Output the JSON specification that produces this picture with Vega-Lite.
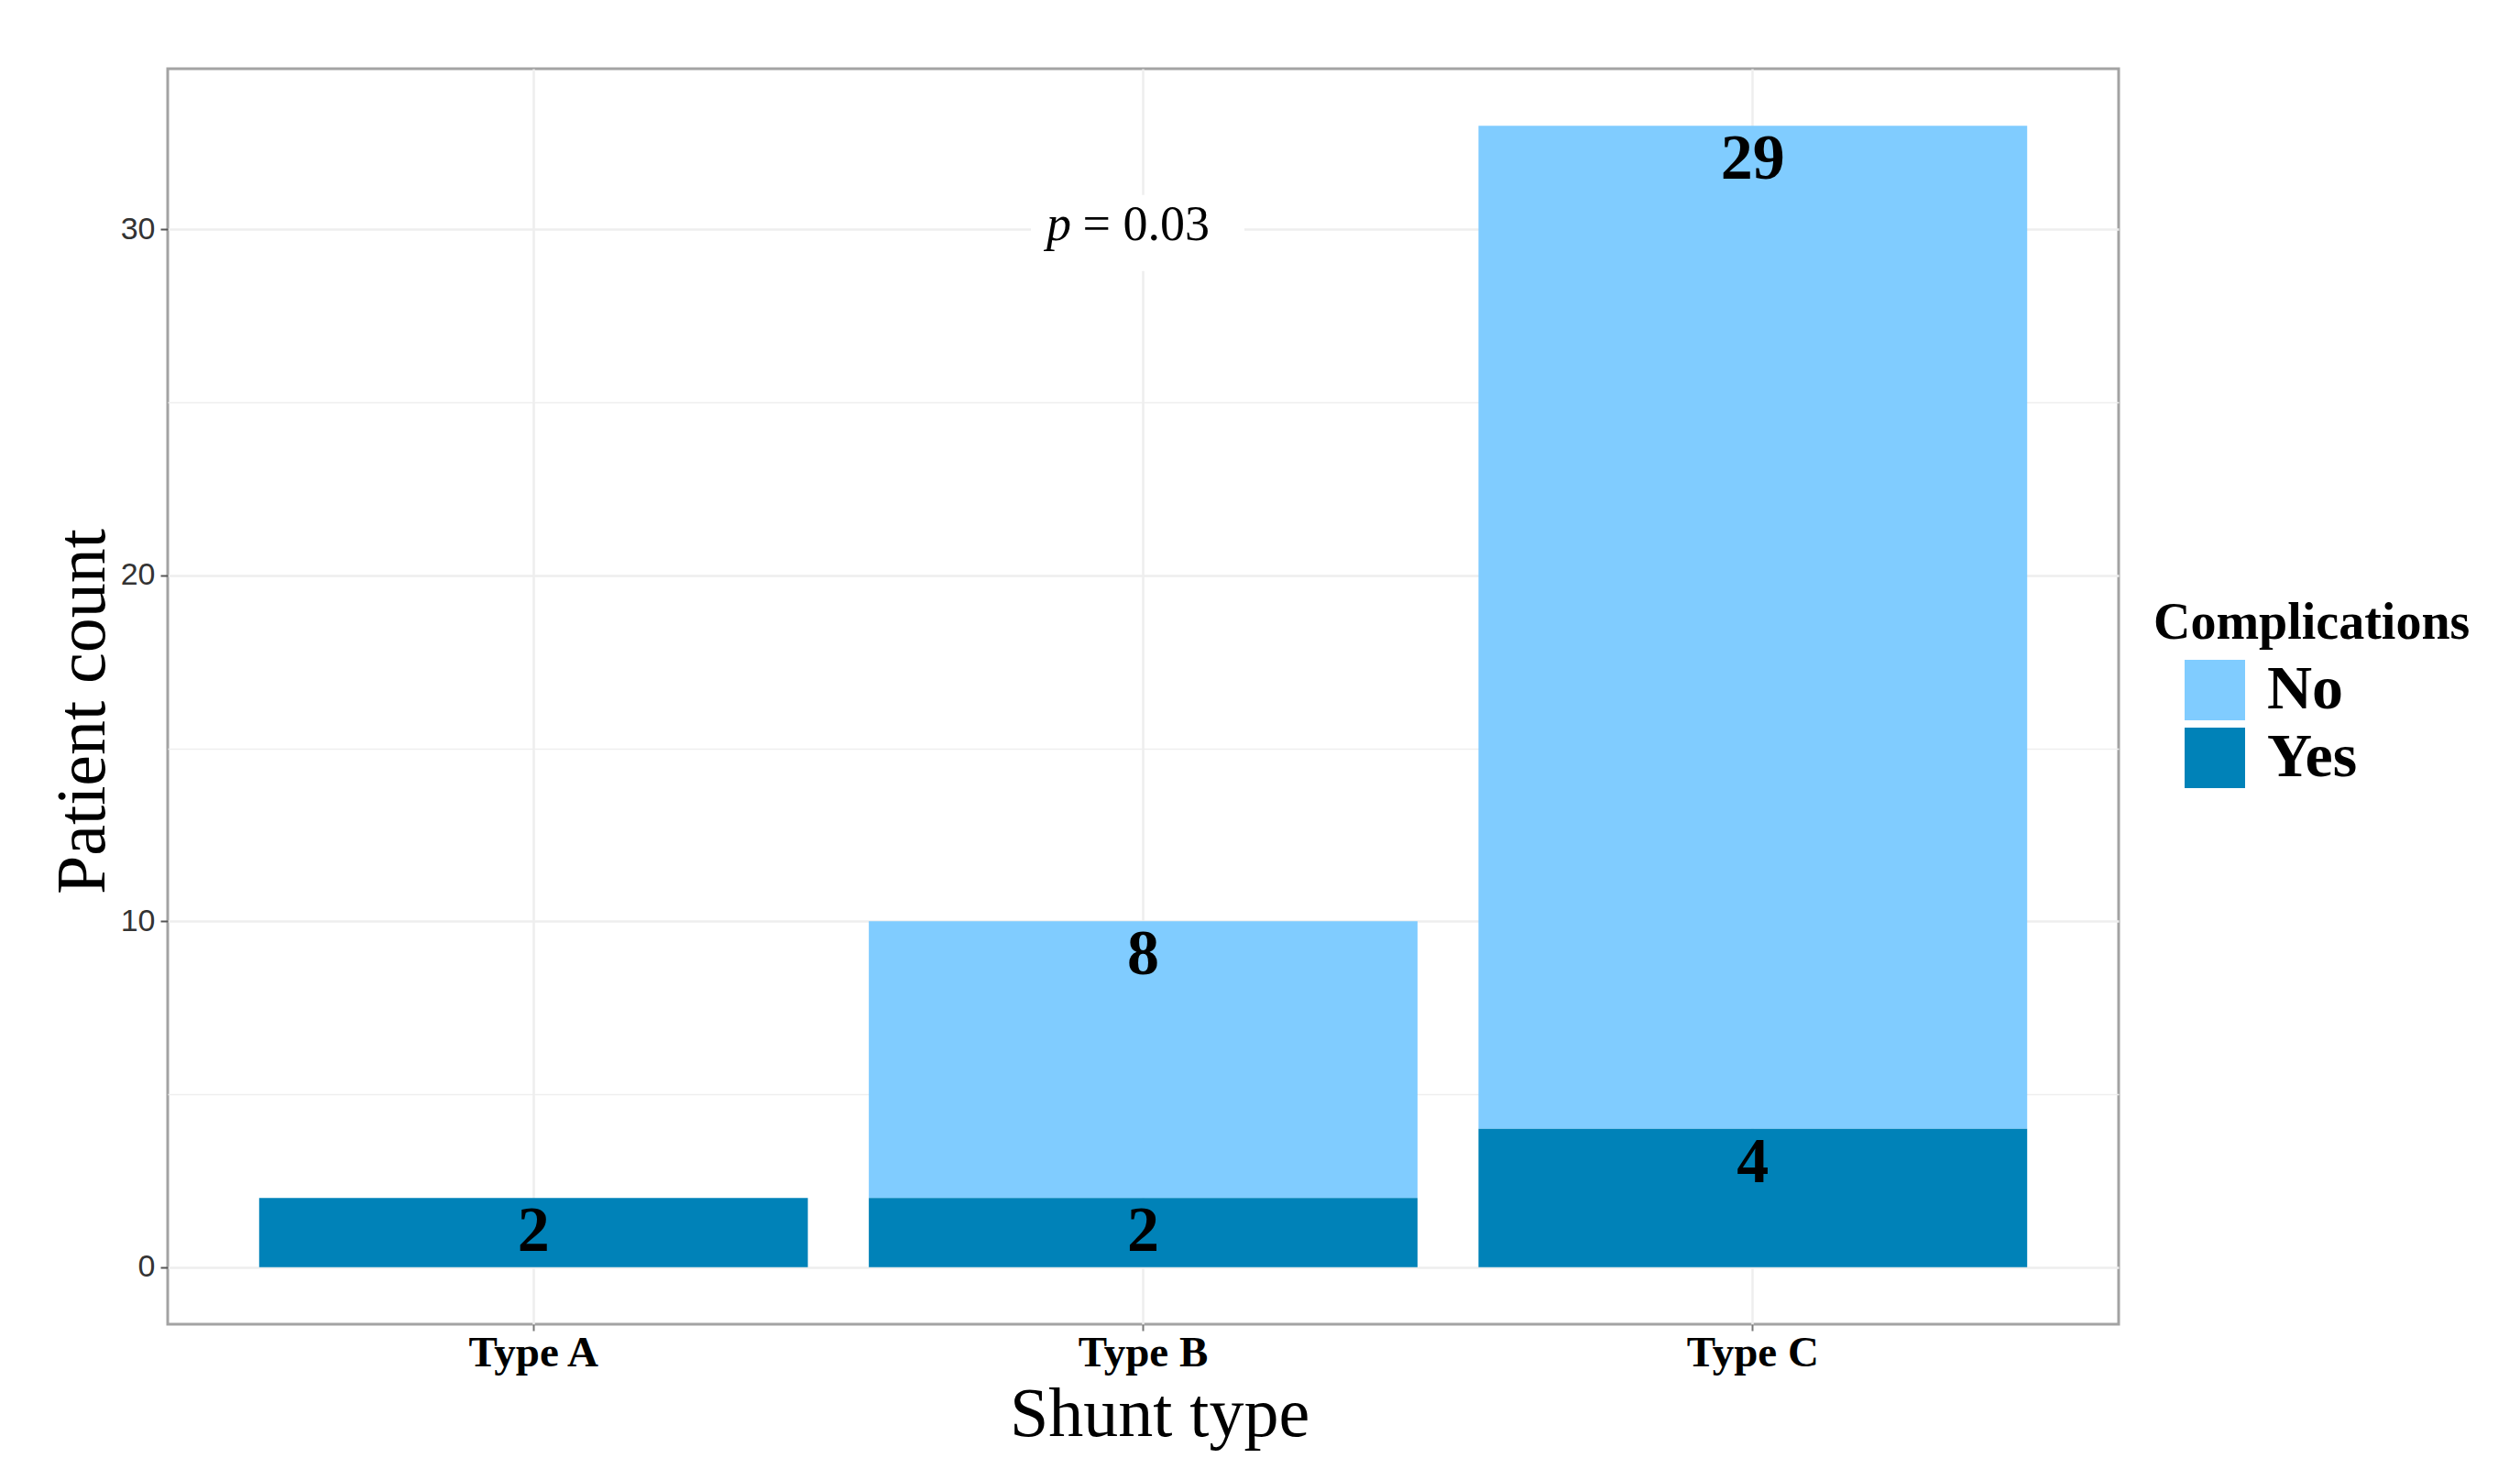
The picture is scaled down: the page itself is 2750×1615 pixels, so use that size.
{
  "$schema": "https://vega.github.io/schema/vega-lite/v6.json",
  "autosize": {"type": "none"},
  "padding": {"left": 183, "top": 75, "right": 438, "bottom": 170},
  "width": 2129,
  "height": 1370,
  "background": "white",
  "config": {
    "view": {"stroke": "#a3a3a3", "strokeWidth": 3},
    "axis": {"domain": false}
  },
  "data": {
    "values": [
      {"Shunt": "Type A", "Complications": "Yes", "count": 2},
      {"Shunt": "Type B", "Complications": "No", "count": 8},
      {"Shunt": "Type B", "Complications": "Yes", "count": 2},
      {"Shunt": "Type C", "Complications": "No", "count": 29},
      {"Shunt": "Type C", "Complications": "Yes", "count": 4}
    ]
  },
  "encoding": {
    "x": {
      "field": "Shunt",
      "type": "nominal",
      "sort": ["Type A", "Type B", "Type C"],
      "scale": {"paddingInner": 0.1, "paddingOuter": 0.15},
      "axis": {
        "title": "Shunt type",
        "labelAngle": 0,
        "bandPosition": 0.5,
        "grid": true,
        "gridColor": "#eeeeee",
        "gridWidth": 2.5,
        "ticks": true,
        "tickColor": "#777777",
        "tickWidth": 2,
        "tickSize": 7,
        "labelFont": "Liberation Serif",
        "labelFontWeight": "bold",
        "labelFontSize": 47,
        "labelColor": "black",
        "labelPadding": 1,
        "titleFont": "Liberation Serif",
        "titleFontWeight": "normal",
        "titleFontSize": 76,
        "titleColor": "black",
        "titleBaseline": "alphabetic",
        "titleX": 1082,
        "titleY": 121
      }
    }
  },
  "layer": [
    {
      "data": {"values": [{}]},
      "mark": {"type": "bar", "color": "white", "width": 233, "xOffset": -6},
      "encoding": {
        "x": {"datum": "Type B", "type": "nominal"},
        "y": {"datum": 28.8, "type": "quantitative"},
        "y2": {"datum": 31.0}
      }
    },
    {
      "mark": {"type": "bar"},
      "encoding": {
        "y": {
          "field": "count",
          "type": "quantitative",
          "aggregate": "sum",
          "stack": "zero",
          "scale": {"domain": [-1.65, 34.65], "nice": false, "zero": false},
          "axis": {
            "title": "Patient count",
            "values": [0, 5, 10, 15, 20, 25, 30],
            "labelExpr": "datum.value % 10 === 0 ? datum.label : ''",
            "grid": true,
            "gridColor": "#eeeeee",
            "gridWidth": {"condition": {"test": "datum.value % 10 === 0", "value": 2.5}, "value": 1.5},
            "tickOpacity": {"condition": {"test": "datum.value % 10 === 0", "value": 1}, "value": 0},
            "tickColor": "#555555",
            "tickWidth": 2,
            "tickSize": 8,
            "labelFont": "Liberation Sans",
            "labelFontSize": 34,
            "labelColor": "#333333",
            "labelPadding": 6,
            "titleFont": "Liberation Serif",
            "titleFontWeight": "normal",
            "titleFontSize": 76,
            "titleColor": "black",
            "titleBaseline": "alphabetic",
            "titleX": -70,
            "titleY": 701
          }
        },
        "color": {
          "field": "Complications",
          "type": "nominal",
          "scale": {"domain": ["No", "Yes"], "range": ["#80CCFF", "#0082B8"]},
          "legend": {
            "orient": "none",
            "legendX": 2167,
            "legendY": 578,
            "title": "Complications",
            "titleFont": "Liberation Serif",
            "titleFontWeight": "bold",
            "titleFontSize": 56,
            "titleColor": "black",
            "titleLimit": 1000,
            "titlePadding": 10,
            "symbolType": "square",
            "symbolSize": 4356,
            "symbolStrokeWidth": 0,
            "symbolOpacity": 1,
            "symbolOffset": 33,
            "labelFont": "Liberation Serif",
            "labelFontWeight": "bold",
            "labelFontSize": 68,
            "labelColor": "black",
            "labelLimit": 1000,
            "labelOffset": 23,
            "rowPadding": 6
          }
        },
        "order": {"field": "Complications", "sort": "descending"}
      }
    },
    {
      "mark": {
        "type": "text",
        "font": "Liberation Serif",
        "fontWeight": "bold",
        "fontSize": 70,
        "color": "black",
        "baseline": "middle",
        "dy": 37
      },
      "encoding": {
        "y": {"field": "count", "type": "quantitative", "aggregate": "sum", "stack": "zero"},
        "detail": {"field": "Complications"},
        "order": {"field": "Complications", "sort": "descending"},
        "text": {"field": "count", "type": "quantitative"}
      }
    },
    {
      "data": {"values": [{}]},
      "mark": {
        "type": "text",
        "text": "p",
        "font": "Liberation Serif",
        "fontStyle": "italic",
        "fontSize": 54,
        "color": "black",
        "align": "center",
        "baseline": "alphabetic",
        "dx": -92,
        "dy": 12
      },
      "encoding": {
        "x": {"datum": "Type B", "type": "nominal"},
        "y": {"datum": 30, "type": "quantitative"}
      }
    },
    {
      "data": {"values": [{}]},
      "mark": {
        "type": "text",
        "text": "= 0.03",
        "font": "Liberation Serif",
        "fontSize": 54,
        "color": "black",
        "align": "left",
        "baseline": "alphabetic",
        "dx": -66,
        "dy": 12
      },
      "encoding": {
        "x": {"datum": "Type B", "type": "nominal"},
        "y": {"datum": 30, "type": "quantitative"}
      }
    }
  ]
}
